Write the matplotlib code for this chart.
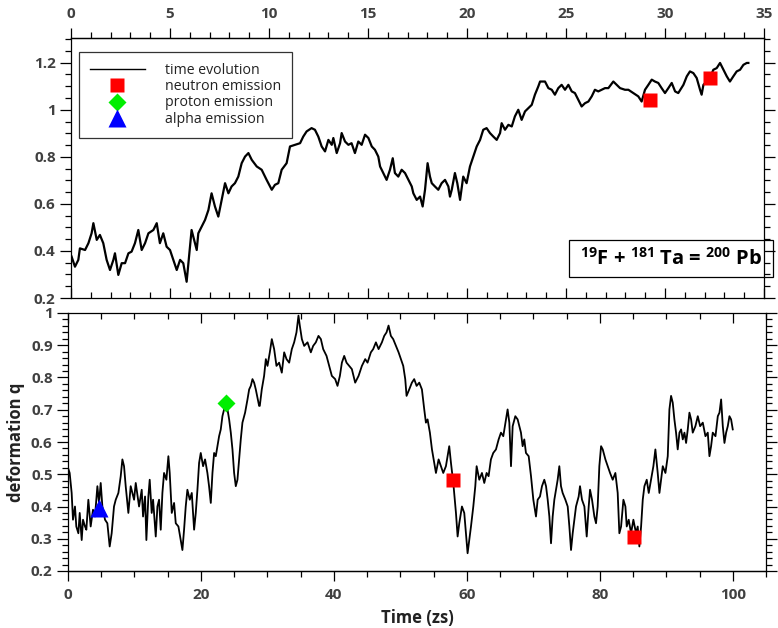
import matplotlib
matplotlib.use('Agg')

import numpy as np
import matplotlib.pyplot as plt
from matplotlib.lines import Line2D
from matplotlib.patches import Rectangle

plt.rcParams['font.family'] = ['Open Sans', 'DejaVu Sans']
plt.rcParams['mathtext.default'] = 'regular'

# upper trace (time on the upper axis scale)
top_t = [0.03, 0.20, 0.37, 0.45, 0.71, 0.88, 1.04, 1.13, 1.30, 1.46, 1.63, 1.80, 1.97, 2.14, 2.22,
         2.39, 2.56, 2.73, 2.90, 3.06, 3.23, 3.40, 3.57, 3.74, 3.91, 4.16, 4.33, 4.49, 4.66, 4.83,
         5.00, 5.17, 5.34, 5.51, 5.67, 5.84, 6.01, 6.09, 6.26, 6.35, 6.43, 6.60, 6.77, 6.94, 7.10,
         7.27, 7.44, 7.61, 7.78, 7.95, 8.11, 8.28, 8.45, 8.62, 8.79, 8.96, 9.13, 9.38, 9.63, 9.88,
         10.14, 10.30, 10.47, 10.64, 10.89, 11.06, 11.31,
         11.57, 11.73, 11.90, 12.15, 12.32, 12.49, 12.66, 12.83, 13.00, 13.17, 13.25, 13.42, 13.59,
         13.67, 13.84, 14.01, 14.17, 14.34, 14.51, 14.68, 14.85, 15.02, 15.19, 15.35, 15.52, 15.61,
         15.77, 15.94, 16.11, 16.25, 16.36, 16.53, 16.70, 16.87, 17.04, 17.21, 17.29, 17.46, 17.63,
         17.76, 17.88, 18.01, 18.13, 18.22, 18.38, 18.55, 18.72, 18.89, 19.06, 19.14, 19.23, 19.39,
         19.51, 19.65, 19.81, 19.98, 20.15, 20.32, 20.49, 20.66, 20.82, 20.99, 21.16, 21.33, 21.50,
         21.67, 21.75, 21.92, 22.09, 22.26, 22.42, 22.59, 22.76, 22.93, 23.10, 23.27, 23.43, 23.60,
         23.69,
         23.94, 24.11, 24.28, 24.44, 24.61, 24.78, 24.95, 25.12, 25.29, 25.45, 25.62, 25.79, 25.96,
         26.13, 26.30, 26.46, 26.63, 26.80, 26.97, 27.14, 27.39, 27.56, 27.73, 27.98, 28.15, 28.40,
         28.65, 28.82, 28.99, 29.16, 29.33, 29.49, 29.66, 29.83, 30.00, 30.17, 30.34, 30.51, 30.67,
         30.93, 31.10, 31.26, 31.43, 31.60, 31.77, 31.85, 31.94, 32.10, 32.27, 32.44, 32.61, 32.78,
         32.95, 33.12, 33.28, 33.45, 33.62, 33.79, 33.96, 34.13, 34.21]
top_q = [0.376, 0.333, 0.362, 0.411, 0.404, 0.433, 0.475, 0.518, 0.447, 0.468, 0.433, 0.362, 0.319,
         0.362, 0.390, 0.298, 0.348, 0.348, 0.390, 0.397, 0.433, 0.489, 0.404, 0.433, 0.475, 0.489,
         0.518, 0.433, 0.475, 0.418, 0.404, 0.362, 0.319, 0.362, 0.348, 0.269, 0.418, 0.489, 0.433,
         0.404, 0.475, 0.503, 0.532, 0.574, 0.645, 0.589, 0.546, 0.617, 0.688, 0.645, 0.674, 0.688,
         0.716, 0.773, 0.801, 0.816, 0.787, 0.759, 0.745, 0.702, 0.660, 0.681, 0.688, 0.745, 0.773,
         0.844, 0.851,
         0.858, 0.886, 0.908, 0.922, 0.915, 0.886, 0.844, 0.823, 0.872, 0.851, 0.880, 0.816, 0.858,
         0.901, 0.865, 0.851, 0.858, 0.816, 0.865, 0.851, 0.894, 0.880, 0.844, 0.830, 0.801, 0.759,
         0.731, 0.702, 0.745, 0.794, 0.731, 0.716, 0.745, 0.731, 0.702, 0.674, 0.645, 0.617, 0.631,
         0.589, 0.660, 0.773, 0.716, 0.688, 0.674, 0.660, 0.688, 0.702, 0.674, 0.631, 0.660, 0.731,
         0.688, 0.617, 0.716, 0.688, 0.759, 0.801, 0.844, 0.872, 0.915, 0.922, 0.901, 0.886, 0.872,
         0.901, 0.943, 0.915, 0.936, 0.929, 0.972, 1.000, 0.957, 0.993, 1.007, 1.021, 1.064, 1.099,
         1.120,
         1.120, 1.092, 1.085, 1.064, 1.092, 1.106, 1.085, 1.106, 1.078, 1.071, 1.043, 1.014, 1.028,
         1.035, 1.057, 1.085, 1.078, 1.085, 1.092, 1.092, 1.120, 1.106, 1.092, 1.085, 1.085, 1.071,
         1.057, 1.035, 1.085, 1.106, 1.128, 1.120, 1.114, 1.092, 1.071, 1.092, 1.114, 1.078, 1.071,
         1.106, 1.142, 1.163, 1.156, 1.135, 1.085, 1.064, 1.106, 1.120, 1.135, 1.170, 1.177, 1.199,
         1.170, 1.142, 1.120, 1.142, 1.163, 1.170, 1.191, 1.199, 1.199]
top_neutron_t = [29.23, 32.26]
top_neutron_q = [1.043, 1.135]

# lower trace, time in zs
bot_t = [0.00, 0.25, 0.55, 0.75, 1.05, 1.25, 1.56, 1.76, 2.06, 2.26, 2.56, 2.76, 3.06, 3.41, 3.76,
         4.06, 4.42, 4.67, 4.92, 5.17, 5.57, 5.92, 6.27, 6.57, 6.92, 7.18, 7.58, 7.93, 8.18, 8.43,
         8.68, 9.08, 9.43, 9.68, 9.94, 10.19, 10.69, 11.09, 11.29, 11.59, 11.79, 12.09, 12.29, 12.59,
         12.80, 13.20, 13.45, 13.70, 13.95, 14.20, 14.45, 14.80, 15.10, 15.30, 15.61, 15.96, 16.21,
         16.61, 16.96, 17.21, 17.46, 17.71, 17.96, 18.32, 18.62, 18.97, 19.22, 19.47, 19.72, 19.97,
         20.32, 20.62, 20.97, 21.22, 21.48, 21.73, 21.98, 22.23, 22.48, 22.73, 22.98, 23.23, 23.48,
         23.73, 23.99, 24.24, 24.49, 24.74, 24.99, 25.24, 25.49, 25.74, 25.99, 26.24, 26.64, 27.00,
         27.25, 27.50, 27.75, 28.00, 28.25, 28.75,
         28.85, 29.15, 29.50, 29.76, 30.01, 30.36, 30.66, 31.01, 31.36, 31.76, 32.16, 32.52, 32.87,
         33.27, 33.67, 34.02, 34.37, 34.67, 34.87, 35.18, 35.53, 36.03, 36.53, 36.88, 37.28, 37.68,
         38.04, 38.39, 38.89, 39.29, 39.69, 40.19, 40.54, 40.90, 41.20, 41.55, 41.90, 42.30, 42.70,
         43.20, 43.71, 44.21, 44.71, 45.06, 45.56, 45.91, 46.32, 46.72, 47.22, 47.57, 47.92, 48.22,
         48.57, 48.92, 49.33, 49.73, 50.08, 50.43, 50.73, 50.93, 51.33, 51.73, 52.08, 52.44, 52.84,
         53.24, 53.59, 53.84, 54.09, 54.44, 54.75, 55.10, 55.35, 55.75, 56.10, 56.45, 56.85, 57.10,
         57.35, 57.61, 57.96, 58.36, 58.61, 58.86, 59.26, 59.61, 59.86, 60.11, 60.36, 60.62, 60.97,
         61.27, 61.47, 61.87, 62.27, 62.62, 62.97, 63.27, 63.62, 63.97, 64.38, 64.78, 65.13, 65.48,
         65.88, 66.13, 66.39,
         66.64, 66.89, 67.29, 67.64, 67.89, 68.14, 68.39, 68.64, 68.89, 69.30, 69.65, 70.00, 70.40,
         70.65, 71.00, 71.30, 71.65, 71.91, 72.16, 72.41, 72.66, 72.91, 73.16, 73.41, 73.66, 73.91,
         74.16, 74.41, 74.82, 75.17, 75.42, 75.67, 75.92, 76.17, 76.42, 76.82, 77.02, 77.32, 77.68,
         78.03, 78.33, 78.53, 78.83, 79.18, 79.43, 79.68, 79.93, 80.19, 80.44, 80.84, 81.19, 81.54,
         81.94, 82.34, 82.69, 82.94, 83.20, 83.55, 83.85, 84.05, 84.35, 84.70, 85.05, 85.45, 85.70,
         85.95, 86.21, 86.46, 86.71, 87.06, 87.36, 87.71, 88.06, 88.36, 88.71, 88.97, 89.22, 89.47,
         89.87, 90.22, 90.47, 90.72, 90.97, 91.22, 91.47, 91.72, 91.98, 92.23, 92.48, 92.73, 92.98,
         93.23, 93.48, 93.73, 93.98, 94.38, 94.74, 95.09, 95.49, 95.89, 96.24, 96.49, 96.74, 96.99,
         97.40, 97.75, 98.00, 98.25, 98.50, 98.75, 99.00, 99.25, 99.50, 99.75, 100.00]
bot_q = [0.520, 0.504, 0.442, 0.359, 0.400, 0.338, 0.317, 0.380, 0.296, 0.359, 0.338, 0.328, 0.421,
         0.338, 0.390, 0.369, 0.463, 0.411, 0.473, 0.400, 0.359, 0.348, 0.276, 0.317, 0.400, 0.421,
         0.442, 0.494, 0.546, 0.525, 0.463, 0.380, 0.463, 0.442, 0.421, 0.473, 0.400, 0.452, 0.369,
         0.431, 0.296, 0.431, 0.483, 0.380, 0.421, 0.307, 0.400, 0.421, 0.328, 0.442, 0.504, 0.483,
         0.556, 0.504, 0.380, 0.411, 0.348, 0.338, 0.296, 0.265, 0.328, 0.400, 0.452, 0.421, 0.442,
         0.328, 0.380, 0.452, 0.535, 0.566, 0.525, 0.546, 0.504, 0.463, 0.411, 0.504, 0.566, 0.556,
         0.587, 0.618, 0.639, 0.680, 0.701, 0.722, 0.701, 0.670, 0.629, 0.577, 0.504, 0.463, 0.483,
         0.546, 0.608, 0.660, 0.691, 0.732, 0.763, 0.774, 0.795, 0.784, 0.763, 0.712,
         0.712, 0.763, 0.805, 0.857, 0.836, 0.878, 0.919, 0.888, 0.836, 0.846, 0.815, 0.878, 0.857,
         0.846, 0.888, 0.909, 0.940, 0.992, 0.961, 0.919, 0.898, 0.909, 0.878, 0.898, 0.909, 0.929,
         0.919, 0.888, 0.867, 0.836, 0.805, 0.795, 0.774, 0.805, 0.846, 0.867, 0.846, 0.836, 0.826,
         0.784, 0.805, 0.836, 0.857, 0.846, 0.878, 0.888, 0.909, 0.888, 0.909, 0.929, 0.940, 0.961,
         0.929, 0.919, 0.898, 0.878, 0.857, 0.836, 0.795, 0.743, 0.763, 0.784, 0.795, 0.774, 0.784,
         0.763, 0.701, 0.660, 0.670, 0.629, 0.577, 0.535, 0.504, 0.546, 0.525, 0.504, 0.525, 0.556,
         0.587, 0.535, 0.473, 0.380, 0.307, 0.348, 0.400, 0.380, 0.317, 0.255, 0.296, 0.338, 0.400,
         0.463, 0.525, 0.483, 0.504, 0.473, 0.504, 0.494, 0.546, 0.566, 0.577, 0.608, 0.629, 0.618,
         0.670, 0.701, 0.660,
         0.525, 0.649, 0.680, 0.670, 0.649, 0.629, 0.587, 0.608, 0.566, 0.556, 0.494, 0.421, 0.369,
         0.421, 0.431, 0.463, 0.483, 0.463, 0.421, 0.369, 0.286, 0.369, 0.421, 0.452, 0.483, 0.525,
         0.463, 0.442, 0.421, 0.400, 0.338, 0.265, 0.317, 0.359, 0.400, 0.431, 0.463, 0.421, 0.400,
         0.307, 0.400, 0.452, 0.421, 0.369, 0.348, 0.400, 0.525, 0.587, 0.577, 0.546, 0.525, 0.504,
         0.483, 0.504, 0.442, 0.317, 0.338, 0.421, 0.400, 0.338, 0.359, 0.317, 0.359, 0.317, 0.338,
         0.276, 0.338, 0.421, 0.463, 0.483, 0.442, 0.483, 0.525, 0.577, 0.504, 0.442, 0.483, 0.525,
         0.504, 0.556, 0.701, 0.743, 0.722, 0.670, 0.629, 0.577, 0.629, 0.639, 0.608, 0.629, 0.597,
         0.639, 0.691, 0.670, 0.629, 0.649, 0.680, 0.649, 0.660, 0.618, 0.629, 0.556, 0.587, 0.629,
         0.618, 0.680, 0.691, 0.732, 0.649, 0.597, 0.629, 0.649, 0.680, 0.670, 0.639]
neutron_t = [57.9, 85.1]
neutron_q = [0.482, 0.305]
proton_t = [23.7]
proton_q = [0.72]
alpha_t = [4.6]
alpha_q = [0.395]

# tick positions
top_xmajor = [0, 5, 10, 15, 20, 25, 30, 35]
top_ymajor = [0.2, 0.4, 0.6, 0.8, 1.0, 1.2]
top_ylabels = ['0.2', '0.4', '0.6', '0.8', '1', '1.2']
bot_xmajor = [0, 20, 40, 60, 80, 100]
bot_ymajor = [0.2, 0.3, 0.4, 0.5, 0.6, 0.7, 0.8, 0.9, 1.0]
bot_ylabels = ['0.2', '0.3', '0.4', '0.5', '0.6', '0.7', '0.8', '0.9', '1']

tick_col = '#404040'
W, H = 778, 628

fig = plt.figure(figsize=(W / 100, H / 100), dpi=100)
ax_top = fig.add_axes([71 / W, 1 - 298 / H, 693 / W, 260 / H])
ax_bot = fig.add_axes([68 / W, 1 - 571 / H, 698 / W, 258 / H])


def style_axis(ax, xmaj, xmin, ymaj, ylabels, ymin, labels_on_top):
    for s in ax.spines.values():
        s.set_linewidth(0.9)
    ax.set_yticks(ymaj, ylabels)
    ax.set_yticks(ymin, minor=True)
    ax.tick_params(axis='y', which='both', direction='out', left=True, right=True,
                   width=0.9, labelsize=11, labelcolor=tick_col, pad=3)
    ax.tick_params(axis='y', which='major', length=8)
    ax.tick_params(axis='y', which='minor', length=4.5)
    # inner side of the x axis gets ticks pointing into the plot, outer side outwards
    inner = 'bottom' if labels_on_top else 'top'
    outer = 'top' if labels_on_top else 'bottom'
    ax.set_xticks(xmaj, [])
    ax.set_xticks(xmin, minor=True)
    ax.xaxis.set_ticks_position(inner)
    ax.tick_params(axis='x', which='both', direction='in', width=0.9,
                   labelbottom=False, labeltop=False)
    ax.tick_params(axis='x', which='major', length=7.5)
    ax.tick_params(axis='x', which='minor', length=4.3)
    sec = ax.secondary_xaxis(outer)
    sec.set_xticks(xmaj, [str(v) for v in xmaj])
    sec.set_xticks(xmin, minor=True)
    sec.tick_params(axis='x', which='both', direction='out', width=0.9,
                    labelsize=11, labelcolor=tick_col, pad=5)
    sec.tick_params(axis='x', which='major', length=7.5)
    sec.tick_params(axis='x', which='minor', length=4.3)
    sec.spines[outer].set_linewidth(0.9)
    for lab in ax.get_yticklabels() + sec.get_xticklabels():
        lab.set_fontweight('bold')
    return sec


# upper panel
ax_top.plot(top_t, top_q, color='black', lw=1.6, zorder=2)
ax_top.plot(top_neutron_t, top_neutron_q, 's', color='red', ms=10, mec='none', zorder=3)
ax_top.set_xlim(0, 35)
ax_top.set_ylim(0.2, 1.305)
style_axis(ax_top, top_xmajor, np.arange(0, 36, 1), top_ymajor, top_ylabels,
           np.round(np.arange(0.2, 1.301, 0.05), 2), True)

handles = [
    Line2D([], [], color='black', lw=1.0),
    Line2D([], [], marker='s', color='red', ms=10, mec='none', ls='none'),
    Line2D([], [], marker='D', color='#00ee00', ms=9, mec='none', ls='none'),
    Line2D([], [], marker='^', color='blue', ms=13, mec='none', ls='none'),
]
labels = ['time evolution', 'neutron emission', 'proton emission', 'alpha emission']
leg = ax_top.legend(handles, labels, loc='upper left', bbox_to_anchor=(0.0115, 0.946),
                    borderaxespad=0, fontsize=10.2, frameon=True, fancybox=False,
                    handlelength=3.9, handletextpad=1.4, labelspacing=0.1,
                    borderpad=0.75, edgecolor='black')
leg.get_frame().set_linewidth(0.9)
for t in leg.get_texts():
    t.set_color('#222222')

# reaction label in an open box that runs past the right spine
ax_top.add_patch(Rectangle((0.7186, 0.0808), 0.2944, 0.1423, transform=ax_top.transAxes,
                           fill=False, edgecolor='black', lw=0.9, clip_on=False, zorder=4))
ax_top.text(0.866, 0.152, r'$^{19}$F + $^{181}$ Ta = $^{200}$ Pb', transform=ax_top.transAxes,
            ha='center', va='center', fontsize=14.5, fontweight='bold', color='black')

# lower panel
ax_bot.plot(bot_t, bot_q, color='black', lw=1.3, zorder=2)
ax_bot.plot(neutron_t, neutron_q, 's', color='red', ms=10, mec='none', zorder=3)
ax_bot.plot(proton_t, proton_q, 'D', color='#00ee00', ms=9, mec='none', zorder=3)
ax_bot.plot(alpha_t, alpha_q, '^', color='blue', ms=13, mec='none', zorder=3)
ax_bot.set_xlim(0, 105)
ax_bot.set_ylim(0.2, 1.0)
sec_bot = style_axis(ax_bot, bot_xmajor, np.arange(0, 106, 5), bot_ymajor, bot_ylabels,
                     np.round(np.arange(0.2, 1.001, 0.02), 2), False)
ax_bot.set_ylabel('deformation q', fontsize=12, fontweight='bold', color='#222222', labelpad=4)
sec_bot.set_xlabel('Time (zs)', fontsize=12, fontweight='bold', color='#222222', labelpad=5)

fig.savefig('out.png', dpi=100)
plt.close(fig)
